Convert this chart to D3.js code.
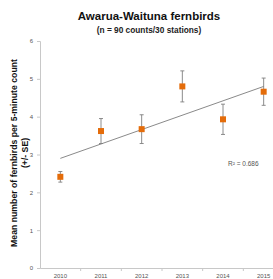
<!DOCTYPE html>
<html>
<head>
<meta charset="utf-8">
<script src="https://cdn.jsdelivr.net/npm/d3@7"></script>
<style>
  body { margin: 0; background: #fff; overflow: hidden; }
  svg { display: block; font-family: "Liberation Sans", Arial, sans-serif; }
</style>
</head>
<body>
<svg width="273" height="279"></svg>
<script>
  // data
  const years = ["2010", "2011", "2012", "2013", "2014", "2015"];
  const means = [2.41, 3.62, 3.67, 4.80, 3.93, 4.66];
  const se = [0.14, 0.33, 0.38, 0.41, 0.40, 0.36];
  const yTicks = [0, 1, 2, 3, 4, 5, 6];

  const svg = d3.select("svg");

  // scales
  const x = d3.scaleBand().domain(years).range([40, 284]).padding(0);
  const y = d3.scaleLinear().domain([0, 6]).range([268, 41]);
  const cx = d => x(d) + x.bandwidth() / 2;

  // title
  svg.append("text")
    .attr("x", 149).attr("y", 20)
    .attr("text-anchor", "middle")
    .style("font-size", "11.5px").style("font-weight", "bold").style("fill", "#111")
    .text("Awarua-Waituna fernbirds");
  svg.append("text")
    .attr("x", 149).attr("y", 33)
    .attr("text-anchor", "middle")
    .style("font-size", "8.3px").style("font-weight", "bold").style("fill", "#222")
    .text("(n = 90 counts/30 stations)");

  // y axis
  const yAxis = svg.append("g")
    .attr("transform", "translate(40,0)")
    .call(d3.axisLeft(y).tickValues(yTicks).tickFormat(d3.format("d")).tickSize(3).tickPadding(4));
  yAxis.select(".domain").attr("stroke", "#c8c8c8");
  yAxis.selectAll(".tick line").attr("stroke", "#c8c8c8");
  yAxis.selectAll(".tick text").style("font-size", "6px").style("fill", "#555");

  // x axis, ticks between categories
  const xAxis = svg.append("g")
    .attr("transform", "translate(0,268)")
    .call(d3.axisBottom(x).tickSize(0).tickPadding(6));
  xAxis.select(".domain").attr("stroke", "#c8c8c8");
  xAxis.selectAll(".tick text").style("font-size", "6px").style("fill", "#555");
  xAxis.selectAll(".sep")
    .data(years.slice(1))
    .enter().append("line")
    .attr("class", "sep")
    .attr("x1", d => x(d)).attr("x2", d => x(d))
    .attr("y1", 0).attr("y2", 3)
    .attr("stroke", "#c8c8c8");

  // y label
  const yl = svg.append("text")
    .attr("transform", "translate(0,153) rotate(-90)")
    .attr("text-anchor", "middle")
    .style("font-size", "8.7px").style("font-weight", "bold").style("fill", "#111");
  yl.append("tspan").attr("x", 0).attr("y", 17).text("Mean number of fernbirds per 5-minute count");
  yl.append("tspan").attr("x", 0).attr("y", 28).text("(+/- SE)");

  // linear trend
  const xs = years.map((d, i) => i + 1);
  const mx = d3.mean(xs), my = d3.mean(means);
  const slope = d3.sum(xs, (v, i) => (v - mx) * (means[i] - my)) / d3.sum(xs, v => (v - mx) ** 2);
  const icpt = my - slope * mx;
  svg.append("line")
    .attr("x1", cx(years[0])).attr("y1", y(icpt + slope * 1))
    .attr("x2", cx(years[5])).attr("y2", y(icpt + slope * 6))
    .attr("stroke", "#8a8a8a").attr("stroke-width", 1);

  // error bars
  const eb = svg.append("g").attr("stroke", "#7f7f7f").attr("stroke-width", 0.9);
  years.forEach((d, i) => {
    eb.append("line")
      .attr("x1", cx(d)).attr("x2", cx(d))
      .attr("y1", y(means[i] + se[i])).attr("y2", y(means[i] - se[i]));
    [means[i] + se[i], means[i] - se[i]].forEach(v => {
      eb.append("line")
        .attr("x1", cx(d) - 2).attr("x2", cx(d) + 2)
        .attr("y1", y(v)).attr("y2", y(v));
    });
  });

  // markers
  svg.selectAll(".pt")
    .data(years)
    .enter().append("rect")
    .attr("class", "pt")
    .attr("x", d => cx(d) - 3)
    .attr("y", (d, i) => y(means[i]) - 3)
    .attr("width", 6).attr("height", 6)
    .attr("fill", "#e46c0a");

  // R squared
  svg.append("text")
    .attr("x", 228).attr("y", 166)
    .style("font-size", "6.5px").style("fill", "#555")
    .text("R² = 0.686");
</script>
</body>
</html>
